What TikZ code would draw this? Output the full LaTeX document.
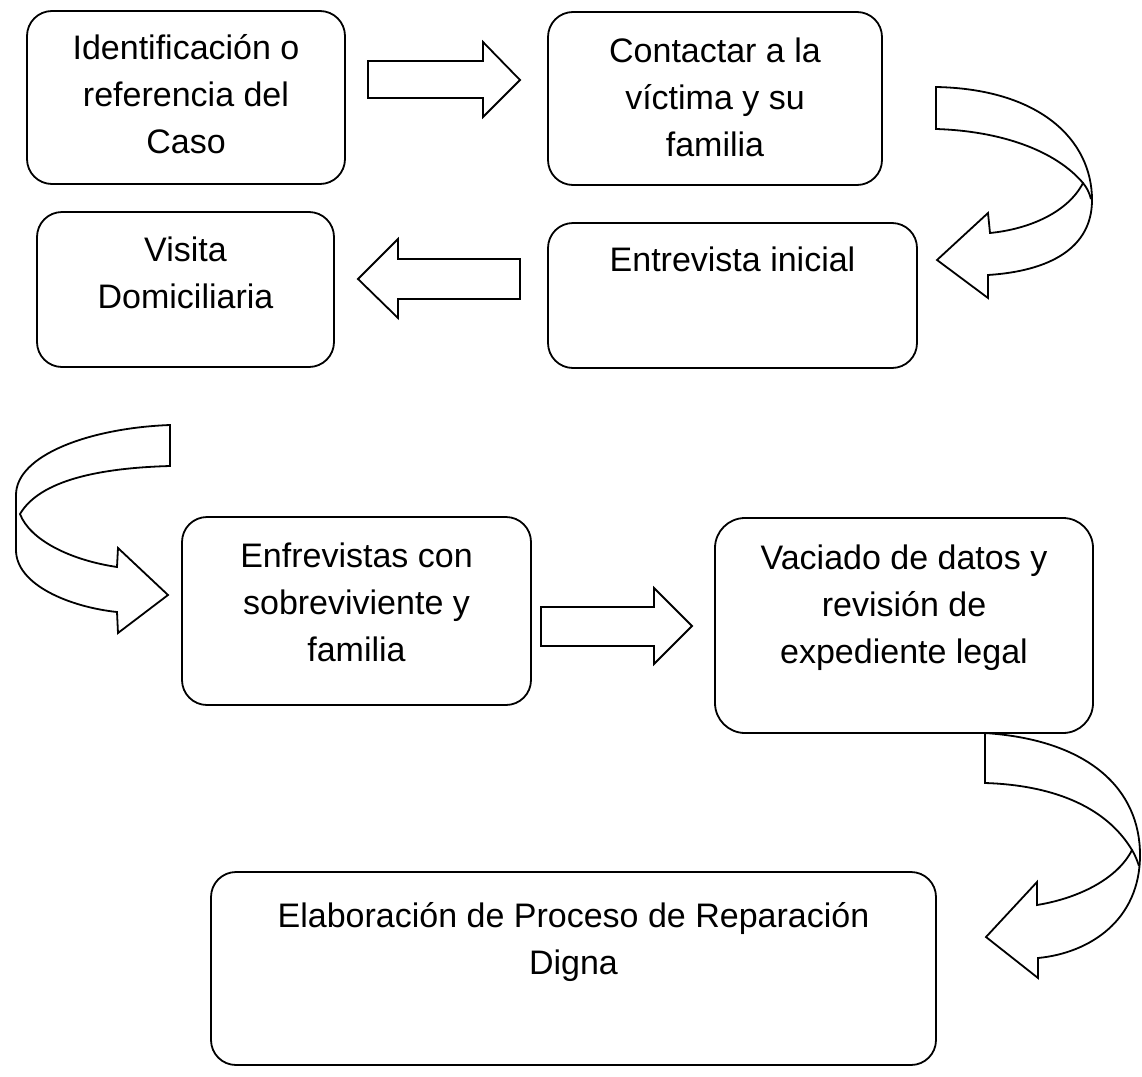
\documentclass[tikz,border=0pt]{standalone}
\usepackage{fontspec}
\setmainfont{Liberation Sans}
\begin{document}
\begin{tikzpicture}[x=1pt,y=-1pt,
  box/.style={draw, line width=1.8pt, rounded corners=25pt, inner sep=0pt},
  lbl/.style={font=\fontsize{34}{47}\selectfont, align=center, inner sep=0pt, anchor=north},
  blk/.style={draw, line width=1.8pt, line join=miter, fill=white},
  thin/.style={draw, line width=1.8pt}]
\useasboundingbox[fill=white] (0,0) rectangle (1142,1076);

% boxes
\node[box, minimum width=318pt, minimum height=173pt] (b1) at (186,97.5) {};
\node[box, minimum width=334pt, minimum height=173pt] (b2) at (715,98.5) {};
\node[box, minimum width=297pt, minimum height=155pt] (b3) at (185.5,289.5) {};
\node[box, minimum width=369pt, minimum height=145pt] (b4) at (732.5,295.5) {};
\node[box, minimum width=349pt, minimum height=188pt] (b5) at (356.5,611) {};
\node[box, rounded corners=30pt, minimum width=378pt, minimum height=215pt] (b6) at (904,625.5) {};
\node[box, minimum width=725pt, minimum height=193pt] (b7) at (573.5,968.5) {};

% texts
\node[lbl] (t1) at ([yshift=-16pt]b1.north) {\strut Identificación o\\referencia del\\Caso};
\node[lbl] (t2) at ([yshift=-18pt]b2.north) {\strut Contactar a la\\víctima y su\\familia};
\node[lbl] (t3) at ([yshift=-17pt]b3.north) {\strut Visita\\Domiciliaria};
\node[lbl] (t4) at ([yshift=-16pt]b4.north) {\strut Entrevista inicial};
\node[lbl] (t5) at ([yshift=-18pt]b5.north) {\strut Enfrevistas con\\sobreviviente y\\familia};
\node[lbl] (t6) at ([yshift=-19pt]b6.north) {\strut Vaciado de datos y\\revisión de\\expediente legal};
\node[lbl] (t7) at ([yshift=-23pt]b7.north) {\strut Elaboración de Proceso de Reparación\\Digna};

% straight block arrows
\path[blk] (368,61) -- (483,61) -- (483,42) -- (520,80) -- (483,117) -- (483,98) -- (368,98) -- cycle;
\path[blk] (520,259) -- (398,259) -- (398,239) -- (358,279) -- (398,318) -- (398,299) -- (520,299) -- cycle;
\path[blk] (541,607) -- (654,607) -- (654,588) -- (692,626) -- (654,664) -- (654,646) -- (541,646) -- cycle;

% curved arrow 1 (right side, top)
\path[blk] (936,87) .. controls (1040,89) and (1092,140) .. (1092,200)
  .. controls (1092,248) and (1050,271) .. (988,275)
  -- (988,298) -- (937,260) -- (988,213) -- (990,233)
  .. controls (1030,229) and (1068,212) .. (1083,183)
  .. controls (1055,150) and (1000,131) .. (936,129) -- cycle;
\path[thin] (1083,183) .. controls (1087,188) and (1089,192) .. (1091,199);

% curved arrow 2 (left side)
\path[blk] (170,425) .. controls (90,428) and (16,455) .. (16,495) -- (16,550)
  .. controls (16,585) and (70,607) .. (117,612)
  -- (118,633) -- (168,595) -- (118,548) -- (117,567)
  .. controls (70,560) and (30,540) .. (20,514)
  .. controls (40,480) and (100,468) .. (170,466) -- cycle;

% curved arrow 3 (right side, bottom)
\path[blk] (985,733) .. controls (1090,740) and (1140,790) .. (1140,855)
  .. controls (1140,920) and (1090,953) .. (1038,958)
  -- (1038,978) -- (986,937) -- (1037,882) -- (1037,905)
  .. controls (1080,898) and (1118,878) .. (1132,850)
  .. controls (1105,805) and (1050,785) .. (985,783) -- cycle;
\path[thin] (1132,850) .. controls (1135,855) and (1137,860) .. (1139,866);
\end{tikzpicture}
\end{document}
